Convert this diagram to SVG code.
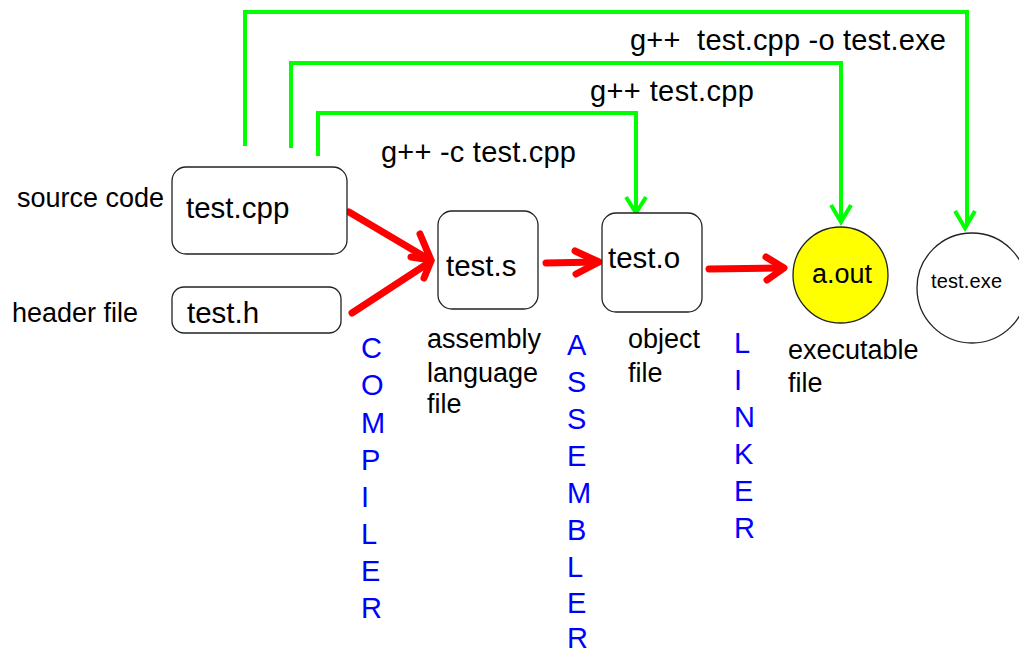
<svg xmlns="http://www.w3.org/2000/svg" width="1019" height="652" viewBox="0 0 1019 652">
<style>
text{font-family:"Liberation Sans",Arial,sans-serif;fill:#000}
.big{font-size:29.5px}
.lbl{font-size:27px}
.cmd{font-size:29px}
.vert{font-size:29px;fill:#0000ff}
.box{fill:#fff;stroke:#222;stroke-width:1.3}
.red{fill:none;stroke:#ff0000;stroke-width:7;stroke-linecap:round;stroke-linejoin:round}
.green{fill:none;stroke:#00ff00;stroke-width:4;stroke-linejoin:miter}
</style>
<rect width="1019" height="652" fill="#fff"/>
<g id="connectors">
<path class="green" d="M245,146 V12 H967 V226"/>
<path class="green" d="M955,211 L965,228 L975,211"/>
<path class="green" d="M291,148 V63 H841 V220"/>
<path class="green" d="M831,205 L841,222 L851,205"/>
<path class="green" d="M318,156 V113 H636 V211"/>
<path class="green" d="M626,197 L636,213 L646,197"/>
<path class="red" d="M349,212 L430,260"/>
<path class="red" d="M352,313 L430,262"/>
<path class="red" d="M420,234 L431,260 L411,257"/>
<path class="red" d="M424,278 L431,261"/>
<path class="red" d="M546,263 L598,262"/>
<path class="red" d="M575,251 L599,262 L576,274"/>
<path class="red" d="M709,269 L782,268"/>
<path class="red" d="M766,257 L784,268 L767,280"/>
</g>
<g id="cmd-labels">
<text class="cmd" x="630" y="50" xml:space="preserve" textLength="316">g++  test.cpp -o test.exe</text>
<text class="cmd" x="590" y="101" textLength="164">g++ test.cpp</text>
<text class="cmd" x="381" y="162" textLength="195">g++ -c test.cpp</text>
</g>
<g id="source">
<rect class="box" x="172" y="167" width="175" height="87" rx="14"/>
<text class="big" x="186" y="218">test.cpp</text>
<text class="lbl" x="17" y="207">source code</text>
</g>
<g id="header">
<rect class="box" x="172" y="287" width="169" height="46" rx="12"/>
<text class="big" x="187" y="323">test.h</text>
<text class="lbl" x="12" y="322">header file</text>
</g>
<g id="assembly">
<rect class="box" x="438" y="211" width="100" height="98" rx="14"/>
<text class="big" x="446" y="276">test.s</text>
<text class="lbl" x="427" y="348">assembly</text>
<text class="lbl" x="427" y="382">language</text>
<text class="lbl" x="427" y="413">file</text>
</g>
<g id="object">
<rect class="box" x="602" y="213" width="100" height="99" rx="14"/>
<text class="big" x="608" y="268">test.o</text>
<text class="lbl" x="628" y="348">object</text>
<text class="lbl" x="628" y="382">file</text>
</g>
<g id="aout">
<ellipse cx="840.5" cy="275" rx="47.5" ry="48" fill="#ffff00" stroke="#222" stroke-width="1.3"/>
<text x="812" y="283" style="font-size:27px">a.out</text>
<text class="lbl" x="788" y="359">executable</text>
<text class="lbl" x="788" y="392">file</text>
</g>
<g id="testexe">
<ellipse cx="972" cy="288" rx="55" ry="55" fill="#fff" stroke="#222" stroke-width="1.3"/>
<text x="931" y="288" style="font-size:20px" textLength="71">test.exe</text>
</g>
<g id="compiler">
<text class="vert" x="361"><tspan x="361" y="358">C</tspan><tspan x="361" y="395">O</tspan><tspan x="361" y="433">M</tspan><tspan x="361" y="470">P</tspan><tspan x="361" y="507">I</tspan><tspan x="361" y="544">L</tspan><tspan x="361" y="581">E</tspan><tspan x="361" y="618">R</tspan></text>
</g>
<g id="assembler">
<text class="vert" x="567"><tspan x="567" y="355">A</tspan><tspan x="567" y="392">S</tspan><tspan x="567" y="429">S</tspan><tspan x="567" y="466">E</tspan><tspan x="567" y="503">M</tspan><tspan x="567" y="540">B</tspan><tspan x="567" y="577">L</tspan><tspan x="567" y="613">E</tspan><tspan x="567" y="648">R</tspan></text>
</g>
<g id="linker">
<text class="vert" x="734"><tspan x="734" y="353">L</tspan><tspan x="734" y="390">I</tspan><tspan x="734" y="427">N</tspan><tspan x="734" y="464">K</tspan><tspan x="734" y="501">E</tspan><tspan x="734" y="538">R</tspan></text>
</g>
</svg>
